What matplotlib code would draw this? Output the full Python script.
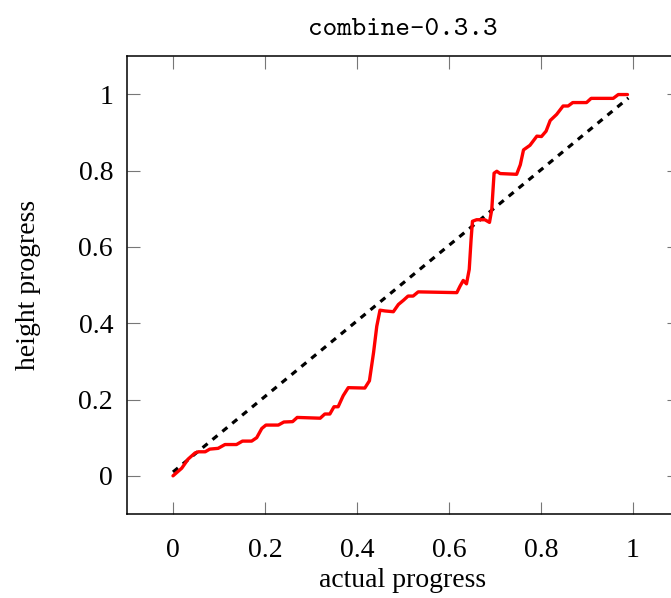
import matplotlib
matplotlib.use("Agg")
import matplotlib.pyplot as plt

# Height progress vs. actual progress for combine-0.3.3
actual = [0.0, 0.019, 0.033, 0.048, 0.055, 0.07, 0.08, 0.098, 0.113, 0.138,
          0.151, 0.171, 0.182, 0.193, 0.202, 0.229, 0.241, 0.26, 0.27, 0.32,
          0.33, 0.341, 0.35, 0.359, 0.37, 0.381, 0.417, 0.427, 0.436, 0.443,
          0.45, 0.461, 0.479, 0.49, 0.501, 0.511, 0.522, 0.533, 0.617, 0.624,
          0.631, 0.638, 0.644, 0.648, 0.651, 0.66, 0.678, 0.688, 0.693, 0.698,
          0.704, 0.711, 0.747, 0.755, 0.762, 0.776, 0.791, 0.801, 0.811, 0.82,
          0.834, 0.848, 0.859, 0.869, 0.899, 0.909, 0.957, 0.968, 0.988]
height = [0.0, 0.02, 0.044, 0.06, 0.063, 0.063, 0.07, 0.072, 0.082, 0.082,
          0.091, 0.091, 0.1, 0.124, 0.133, 0.133, 0.141, 0.142, 0.153, 0.151,
          0.162, 0.162, 0.181, 0.181, 0.21, 0.231, 0.23, 0.249, 0.323, 0.392,
          0.434, 0.432, 0.43, 0.449, 0.46, 0.471, 0.471, 0.482, 0.48, 0.497,
          0.512, 0.503, 0.541, 0.619, 0.667, 0.671, 0.671, 0.664, 0.698, 0.793,
          0.798, 0.792, 0.79, 0.815, 0.854, 0.866, 0.89, 0.889, 0.903, 0.931,
          0.947, 0.969, 0.969, 0.978, 0.978, 0.989, 0.989, 0.999, 0.999]

# Reference diagonal
diag_x = [0.0, 0.99]
diag_y = [0.01, 0.99]

ticks = [0, 0.2, 0.4, 0.6, 0.8, 1]
tick_labels = ["0", "0.2", "0.4", "0.6", "0.8", "1"]

serif = ["Liberation Serif", "DejaVu Serif"]
fs = 20

fig = plt.figure(figsize=(6.71, 5.98), dpi=100)
ax = fig.add_axes([127 / 671, 84 / 598, 552 / 671, 458 / 598])

ax.plot(actual, height, color="#ff0000", lw=2.4, solid_joinstyle="round",
        solid_capstyle="round", zorder=3)
ln, = ax.plot(diag_x, diag_y, color="black", lw=2.3, zorder=2)
ln.set_dashes((2.0, 2.0))

ax.set_xlim(-0.1, 1.1)
ax.set_ylim(-0.1, 1.1)
ax.set_xticks(ticks)
ax.set_yticks(ticks)
ax.set_xticklabels(tick_labels, fontfamily=serif, fontsize=fs)
ax.set_yticklabels(tick_labels, fontfamily=serif, fontsize=fs)
ax.tick_params(direction="in", length=9, width=0.8, color="#777777",
               top=True, right=True, pad=10)
ax.tick_params(axis="x", pad=17)
for s in ax.spines.values():
    s.set_linewidth(1.1)

ax.set_xlabel("actual progress", fontfamily=serif, fontsize=fs, labelpad=4)
ax.set_ylabel("height progress", fontfamily=serif, fontsize=fs, labelpad=27)
ax.set_title("combine-0.3.3", fontfamily="cmtt10", fontsize=20, pad=15)

fig.savefig("out.png", dpi=100)
